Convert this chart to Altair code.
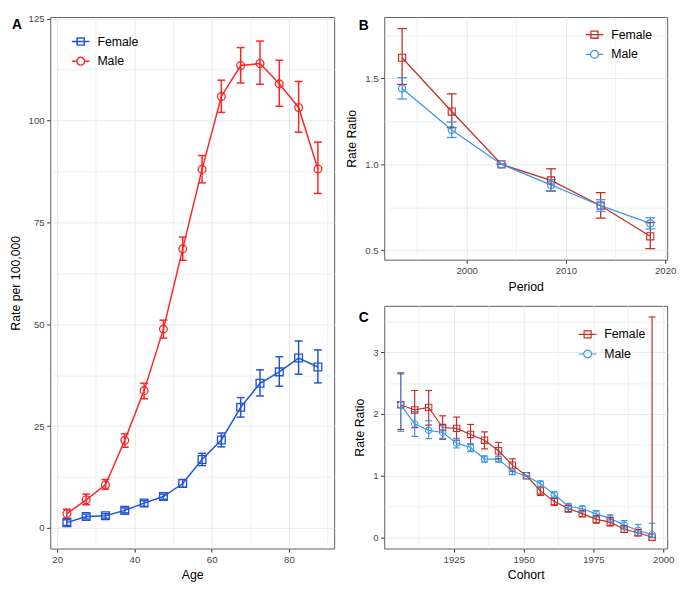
import altair as alt
import pandas as pd

FONT = "Liberation Sans"
SEXES = ["Female", "Male"]

# ---------------- Panel A: age effect (rate per 100,000) ----------------
ages = [22.5, 27.5, 32.5, 37.5, 42.5, 47.5, 52.5, 57.5, 62.5, 67.5, 72.5, 77.5, 82.5, 87.5]
a_female = [1.3, 2.8, 3.0, 4.3, 6.1, 7.7, 10.9, 16.8, 21.6, 29.6, 35.5, 38.3, 41.7, 39.5]
a_female_lo = [0.6, 2.2, 2.4, 3.7, 5.3, 7.0, 10.0, 15.3, 19.9, 27.2, 32.4, 34.8, 37.7, 35.6]
a_female_hi = [2.0, 3.4, 3.5, 4.9, 6.7, 8.3, 11.9, 18.3, 23.3, 32.0, 38.8, 42.0, 45.9, 43.7]
a_male = [3.5, 6.9, 10.6, 21.5, 33.7, 48.8, 68.5, 88.0, 105.9, 113.5, 114.0, 109.0, 103.2, 88.1]
a_male_lo = [2.4, 5.7, 9.5, 19.8, 31.7, 46.6, 65.7, 84.7, 102.0, 109.2, 108.9, 103.5, 97.1, 82.1]
a_male_hi = [4.6, 8.3, 11.9, 23.1, 35.5, 51.0, 71.4, 91.4, 109.9, 117.9, 119.5, 114.8, 109.6, 94.7]

# ---------------- Panel B: period effect (rate ratio) ----------------
periods = [1993.5, 1998.5, 2003.5, 2008.5, 2013.5, 2018.5]
b_female = [1.62, 1.307, 1.0, 0.906, 0.759, 0.581]
b_female_lo = [1.465, 1.213, 1.0, 0.844, 0.687, 0.509]
b_female_hi = [1.79, 1.41, 1.0, 0.974, 0.835, 0.661]
b_male = [1.441, 1.2, 1.0, 0.88, 0.759, 0.656]
b_male_lo = [1.38, 1.156, 1.0, 0.846, 0.726, 0.624]
b_male_hi = [1.504, 1.246, 1.0, 0.911, 0.794, 0.689]

# ---------------- Panel C: cohort effect (rate ratio) ----------------
cohorts = [1906, 1911, 1916, 1921, 1926, 1931, 1936, 1941, 1946, 1951,
           1956, 1961, 1966, 1971, 1976, 1981, 1986, 1991, 1996]
c_female = [2.15, 2.065, 2.106, 1.78, 1.766, 1.668, 1.575, 1.404, 1.172, 1.0,
            0.754, 0.583, 0.47, 0.387, 0.294, 0.248, 0.134, 0.077, 0.005]
c_female_lo = [1.75, 1.78, 1.82, 1.59, 1.575, 1.51, 1.435, 1.275, 1.074, 1.0,
               0.68, 0.52, 0.41, 0.335, 0.232, 0.186, 0.083, 0.03, 0.0]
c_female_hi = [2.65, 2.38, 2.38, 1.97, 1.95, 1.83, 1.71, 1.54, 1.275, 1.0,
               0.826, 0.635, 0.52, 0.44, 0.356, 0.325, 0.19, 0.13, 3.57]
c_male = [2.148, 1.838, 1.735, 1.70, 1.528, 1.456, 1.27, 1.27, 1.069, 1.0,
          0.872, 0.697, 0.506, 0.465, 0.382, 0.31, 0.201, 0.114, 0.046]
c_male_lo = [1.72, 1.636, 1.60, 1.605, 1.45, 1.39, 1.22, 1.22, 1.017, 1.0,
             0.826, 0.65, 0.465, 0.418, 0.33, 0.253, 0.134, 0.031, 0.0]
c_male_hi = [2.67, 2.04, 1.89, 1.81, 1.605, 1.52, 1.32, 1.316, 1.115, 1.0,
             0.914, 0.738, 0.547, 0.51, 0.434, 0.367, 0.274, 0.212, 0.232]


def make_df(xs, fem, fem_lo, fem_hi, mal, mal_lo, mal_hi):
    rows = []
    for sex, (r, lo, hi) in zip(SEXES, [(fem, fem_lo, fem_hi), (mal, mal_lo, mal_hi)]):
        for x, a, b, c in zip(xs, r, lo, hi):
            rows.append({"x": x, "sex": sex, "y": a, "lo": b, "hi": c})
    return pd.DataFrame(rows)


GRID = "#E4EAEA"
SQ_PATH = "M-1,0H1M-0.4,-0.4H0.4V0.4H-0.4Z"
CI_PATH = "M-1,0H-0.44M0.44,0H1M0.44,0A0.44,0.44 0 1,1 -0.44,0A0.44,0.44 0 1,1 0.44,0Z"


def panel(df, c):
    xs = alt.Scale(domain=c["xdom"], nice=False, zero=False)
    ys = alt.Scale(domain=c["ydom"], nice=False, zero=False)
    cs = alt.Scale(domain=SEXES, range=c["colors"])
    lw = c["lw"]
    base = alt.Chart(df)

    major_x = alt.Axis(orient="bottom", values=c["xmaj"], title=c["xtitle"], format="d",
                       grid=True, gridColor=GRID, gridWidth=1, titlePadding=5)
    major_y = alt.Axis(orient="left", values=c["ymaj"], title=c["ytitle"], format=c["yfmt"],
                       grid=True, gridColor=GRID, gridWidth=1, titlePadding=6)
    minor_x = alt.Axis(orient="bottom", values=c["xmin"], labels=False, ticks=False,
                       domain=False, title=None, grid=True, gridColor=GRID, gridWidth=0.7)
    minor_y = alt.Axis(orient="left", values=c["ymin"], labels=False, ticks=False,
                       domain=False, title=None, grid=True, gridColor=GRID, gridWidth=0.7)

    leg = alt.Legend(title=None, orient="none", legendX=c["legx"], legendY=c["legy"],
                     labelFont=FONT, labelFontSize=12.5, labelColor="black",
                     symbolSize=324, symbolStrokeWidth=lw, symbolFillColor="transparent",
                     symbolOpacity=1, rowPadding=3, labelOffset=7, padding=0)
    # legend-only layer (no rows): carries the combined colour + shape legend
    dummy = base.transform_filter("false").mark_point(filled=False, strokeWidth=lw).encode(
        x=alt.X("x:Q", scale=xs, axis=None),
        y=alt.Y("y:Q", scale=ys, axis=None),
        color=alt.Color("sex:N", scale=cs, legend=leg),
        shape=alt.Shape("sex:N", scale=alt.Scale(domain=SEXES, range=[SQ_PATH, CI_PATH]), legend=leg),
    )

    lines, rules, caps, pts = [], [], [], []
    for i, (sex, colr, shp) in enumerate(zip(SEXES, c["colors"], ["square", "circle"])):
        sub = base.transform_filter(alt.datum.sex == sex)
        lines.append(sub.mark_line(strokeWidth=lw, color=colr).encode(
            x=alt.X("x:Q", scale=xs, axis=major_x if i == 0 else None),
            y=alt.Y("y:Q", scale=ys, axis=major_y if i == 0 else None),
        ))
        rules.append(sub.mark_rule(strokeWidth=lw, color=colr).encode(
            x=alt.X("x:Q", scale=xs, axis=minor_x if i == 0 else None),
            y=alt.Y("lo:Q", scale=ys, axis=minor_y if i == 0 else None),
            y2="hi:Q",
        ))
        for fld in ["lo", "hi"]:
            caps.append(sub.mark_tick(orient="horizontal", size=c["cap"], thickness=lw,
                                      color=colr, opacity=1).encode(
                x=alt.X("x:Q", scale=xs, axis=None),
                y=alt.Y(f"{fld}:Q", scale=ys, axis=None),
            ))
        pts.append(sub.mark_point(shape=shp, filled=False, size=c["psize"],
                                  strokeWidth=lw * 0.9, color=colr, opacity=1).encode(
            x=alt.X("x:Q", scale=xs, axis=None),
            y=alt.Y("y:Q", scale=ys, axis=None),
        ))
    tag = alt.Chart(pd.DataFrame({"t": [c["tag"]]})).mark_text(
        align="left", baseline="top", fontSize=14, fontWeight="bold", font=FONT, color="black"
    ).encode(x=alt.value(c["tagx"]), y=alt.value(c["tagy"]), text="t:N")

    return alt.layer(dummy, *lines, *rules, *caps, *pts, tag).resolve_axis(
        x="independent", y="independent").properties(width=c["w"], height=c["h"])


dfA = make_df(ages, a_female, a_female_lo, a_female_hi, a_male, a_male_lo, a_male_hi)
dfB = make_df(periods, b_female, b_female_lo, b_female_hi, b_male, b_male_lo, b_male_hi)
dfC = make_df(cohorts, c_female, c_female_lo, c_female_hi, c_male, c_male_lo, c_male_hi)

A = panel(dfA, dict(
    xdom=[18.2, 91.7], ydom=[-5.05, 125.4], xmaj=[20, 40, 60, 80], xmin=[30, 50, 70, 90],
    ymaj=[0, 25, 50, 75, 100, 125], ymin=[12.5, 37.5, 62.5, 87.5, 112.5],
    xtitle="Age", ytitle="Rate  per 100,000", yfmt="d",
    colors=["#2153D6", "#FF2424"], lw=1.5, cap=8, psize=62,
    legx=21, legy=15, tag="A", tagx=-39, tagy=1, w=289, h=541))

B = panel(dfB, dict(
    xdom=[1991.7, 2020.2], ydom=[0.445, 1.857], xmaj=[2000, 2010, 2020], xmin=[1995, 2005, 2015],
    ymaj=[0.5, 1.0, 1.5], ymin=[0.75, 1.25, 1.75],
    xtitle="Period", ytitle="Rate Ratio", yfmt=".1f",
    colors=["#C62D25", "#3A98EA"], lw=1.3, cap=10, psize=52,
    legx=204, legy=8, tag="B", tagx=-26, tagy=2, w=288, h=247))

C = panel(dfC, dict(
    xdom=[1900.1, 2001.4], ydom=[-0.178, 3.75], xmaj=[1925, 1950, 1975, 2000],
    xmin=[1912.5, 1937.5, 1962.5, 1987.5],
    ymaj=[0, 1, 2, 3], ymin=[0.5, 1.5, 2.5, 3.5],
    xtitle="Cohort", ytitle="Rate Ratio", yfmt="d",
    colors=["#C62D25", "#3A98EA"], lw=1.2, cap=7, psize=42,
    legx=197, legy=19, tag="C", tagx=-26, tagy=5, w=288, h=247))

right = alt.vconcat(B, C, spacing=47, bounds="flush").resolve_scale(
    color="independent", shape="independent")

chart = alt.hconcat(A, right, spacing=51, bounds="flush").resolve_scale(
    color="independent", shape="independent").properties(
    padding={"left": 0, "top": 0, "right": 0, "bottom": 0},
    background="white",
).configure(font=FONT).configure_view(
    stroke="#5e5e5e", strokeWidth=1
).configure_axis(
    labelFont=FONT, labelFontSize=9.8, labelColor="#474747",
    tickColor="#333333", tickSize=3.7, tickWidth=1, labelPadding=2.5,
    titleFont=FONT, titleFontSize=12.5, titleFontWeight="normal", titleColor="black",
    domain=False, labelFlush=False, labelBound=False,
)

chart.save("out.html", embed_options={"renderer": "svg", "actions": False})
